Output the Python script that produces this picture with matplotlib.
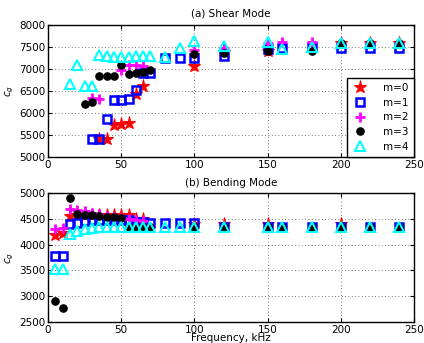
import matplotlib
matplotlib.use("Agg")
import matplotlib.pyplot as plt
from matplotlib.ticker import MultipleLocator

# ---- (a) Shear mode group velocity ----
shear_f0 = [35, 40, 45, 50, 55, 60, 65, 100, 120, 150, 200, 220, 240]
shear_c0 = [5400, 5415, 5735, 5750, 5770, 6440, 6610, 7070, 7380, 7400, 7600, 7600, 7600]
shear_f1 = [30, 35, 40, 45, 50, 55, 60, 65, 70, 80, 90, 100, 120, 150, 160, 180, 200, 220, 240]
shear_c1 = [5415, 5415, 5860, 6290, 6290, 6310, 6530, 6910, 6910, 7260, 7260, 7260, 7300, 7450, 7470, 7500, 7480, 7480, 7480]
shear_f2 = [30, 35, 50, 55, 60, 65, 100, 120, 150, 160, 180, 200, 220, 240]
shear_c2 = [6340, 6310, 6975, 7100, 7090, 7070, 7430, 7470, 7600, 7620, 7620, 7600, 7600, 7600]
shear_f3 = [25, 30, 35, 40, 45, 50, 55, 60, 65, 70, 100, 120, 150, 180, 200, 220, 240]
shear_c3 = [6210, 6240, 6850, 6850, 6830, 7100, 6880, 6920, 6940, 6970, 7350, 7360, 7400, 7420, 7600, 7600, 7600]
shear_f4 = [15, 20, 25, 30, 35, 40, 45, 50, 55, 60, 65, 70, 80, 90, 100, 120, 150, 160, 180, 200, 220, 240]
shear_c4 = [6660, 7090, 6620, 6620, 7310, 7300, 7280, 7270, 7280, 7290, 7300, 7300, 7280, 7470, 7630, 7530, 7620, 7450, 7510, 7600, 7600, 7600]

# ---- (b) Bending mode group velocity ----
bend_f0 = [5, 10, 15, 20, 25, 30, 35, 40, 45, 50, 55, 60, 65, 100, 120, 150, 200]
bend_c0 = [4190, 4220, 4560, 4580, 4580, 4580, 4580, 4580, 4575, 4575, 4570, 4500, 4500, 4400, 4400, 4400, 4400]
bend_f1 = [5, 10, 15, 20, 25, 30, 35, 40, 45, 50, 55, 60, 65, 70, 80, 90, 100, 120, 150, 160, 180, 200, 220, 240]
bend_c1 = [3770, 3770, 4390, 4420, 4450, 4470, 4480, 4480, 4480, 4480, 4470, 4430, 4430, 4420, 4410, 4410, 4410, 4340, 4340, 4340, 4340, 4340, 4340, 4340]
bend_f2 = [5, 10, 15, 20, 25, 30, 35, 40, 45, 50, 55, 60, 65]
bend_c2 = [4300, 4320, 4690, 4680, 4645, 4610, 4590, 4560, 4540, 4520, 4500, 4470, 4450]
bend_f3 = [5, 10, 15, 20, 25, 30, 35, 40, 45, 50, 55, 60, 65, 70, 100, 120, 150, 160, 180, 200, 220, 240]
bend_c3 = [2900, 2780, 4900, 4590, 4570, 4570, 4550, 4535, 4530, 4515, 4350, 4340, 4340, 4340, 4350, 4350, 4350, 4350, 4350, 4350, 4350, 4350]
bend_f4 = [5, 10, 15, 20, 25, 30, 35, 40, 45, 50, 55, 60, 65, 70, 80, 90, 100, 120, 150, 160, 180, 200, 220, 240]
bend_c4 = [3520, 3520, 4210, 4255, 4300, 4320, 4340, 4350, 4350, 4350, 4350, 4350, 4350, 4350, 4350, 4350, 4350, 4350, 4350, 4350, 4350, 4350, 4350, 4350]

labels = ["m=0", "m=1", "m=2", "m=3", "m=4"]

styles = [
    dict(marker="*", color="red", markersize=9.5, linestyle="none", markeredgewidth=0.8),
    dict(marker="s", markerfacecolor="none", markeredgecolor="blue", markersize=5.5,
         markeredgewidth=1.8, linestyle="none"),
    dict(marker="+", color="magenta", markersize=6.5, markeredgewidth=2.0, linestyle="none"),
    dict(marker="o", color="black", markersize=5.2, linestyle="none"),
    dict(marker="^", markerfacecolor="none", markeredgecolor="cyan", markersize=7.5,
         markeredgewidth=1.5, linestyle="none"),
]

plt.rcParams["font.family"] = "DejaVu Sans"
plt.rcParams["font.size"] = 7.5

fig = plt.figure(figsize=(4.24, 3.43), dpi=100)
W, H = 424, 343
ax1 = fig.add_axes([48 / W, 1 - 157 / H, 366 / W, 132 / H])
ax2 = fig.add_axes([48 / W, 1 - 322 / H, 366 / W, 129 / H])

shear = [(shear_f0, shear_c0), (shear_f1, shear_c1), (shear_f2, shear_c2),
         (shear_f3, shear_c3), (shear_f4, shear_c4)]
bend = [(bend_f0, bend_c0), (bend_f1, bend_c1), (bend_f2, bend_c2),
        (bend_f3, bend_c3), (bend_f4, bend_c4)]

handles = []
for (f, c), st, lab in zip(shear, styles, labels):
    h, = ax1.plot(f, c, label=lab, **st)
    handles.append(h)
for (f, c), st in zip(bend, styles):
    ax2.plot(f, c, **st)

for ax in (ax1, ax2):
    ax.set_xlim(0, 250)
    ax.xaxis.set_major_locator(MultipleLocator(50))
    ax.grid(True, linestyle=(0, (1, 3)), color="black", linewidth=0.6, alpha=0.7)
    ax.tick_params(direction="in", top=True, right=True, length=3, width=0.8, pad=2)
    for s in ax.spines.values():
        s.set_linewidth(1.0)
    ax.set_ylabel(r"$c_g$", labelpad=2)

ax1.set_ylim(5000, 8000)
ax1.yaxis.set_major_locator(MultipleLocator(500))
ax1.set_title("(a) Shear Mode", fontsize=7.5, pad=6)

ax2.set_ylim(2500, 5000)
ax2.yaxis.set_major_locator(MultipleLocator(500))
ax2.set_title("(b) Bending Mode", fontsize=7.5, pad=5)
ax2.set_xlabel("Frequency, kHz", labelpad=-1)

leg = ax1.legend(handles=handles, loc="lower right", frameon=True, fancybox=False,
                 edgecolor="black", framealpha=1, borderaxespad=0, handlelength=1.6,
                 labelspacing=0.45, handletextpad=1.4, borderpad=0.5, markerfirst=True)
leg.get_frame().set_linewidth(1.0)

fig.savefig("out.png", dpi=100)
